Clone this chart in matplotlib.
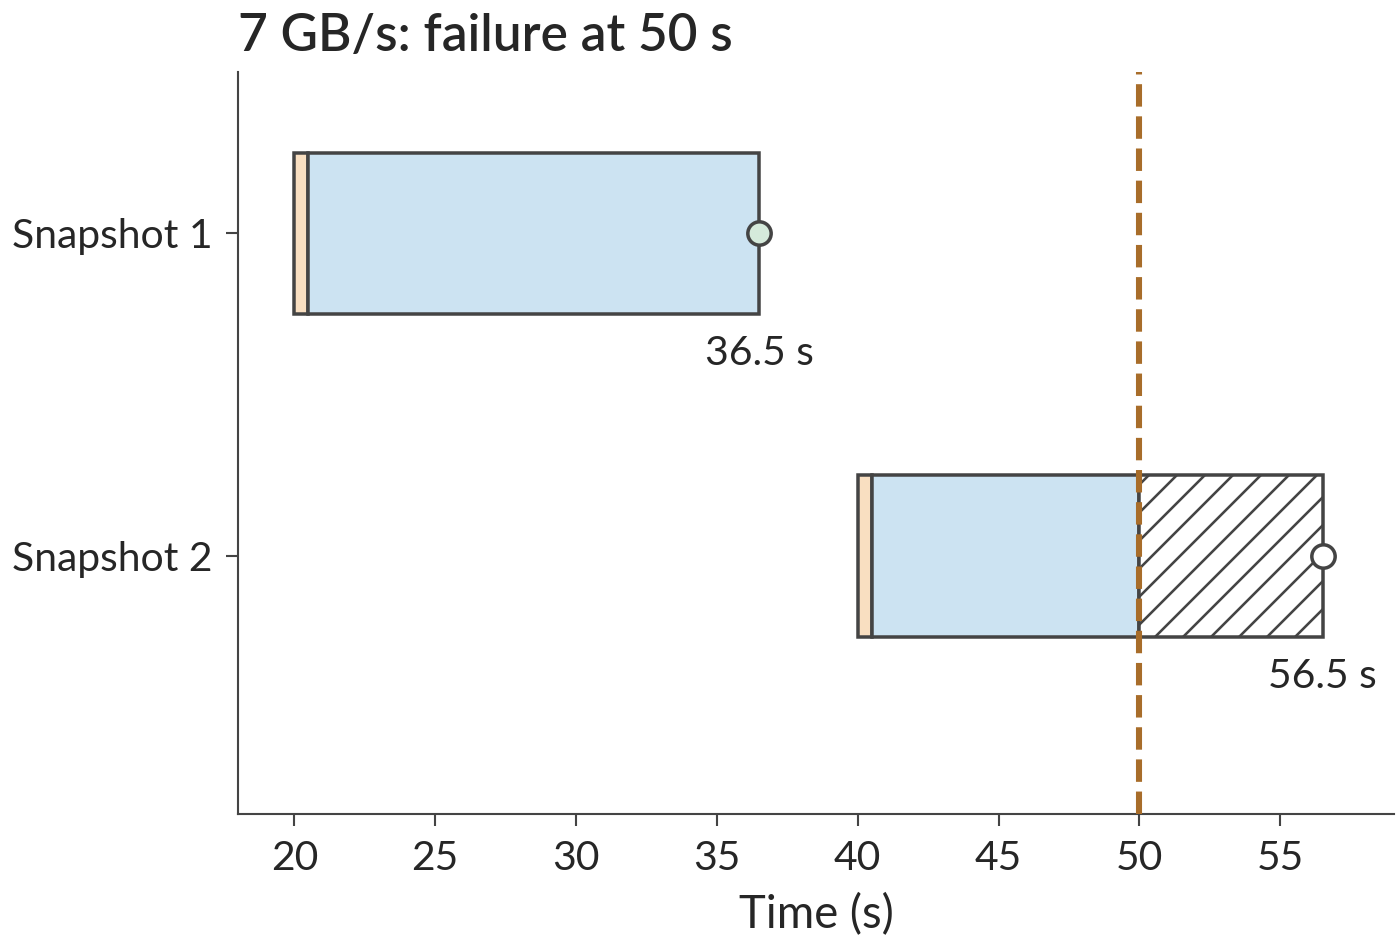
import numpy as np
import matplotlib.pyplot as plt

snapshots = ['Snapshot 1', 'Snapshot 2']
start = [20.0, 40.0]
setup_end = [20.5, 40.5]
finish = [36.5, 56.5]
failure = 50.0
title = '7 GB/s: failure at 50 s'

plt.rcParams['font.family'] = ['Lato', 'DejaVu Sans']
plt.rcParams['hatch.linewidth'] = 1.1
plt.rcParams['hatch.color'] = '#444444'

edge = '#444444'
fig = plt.figure(figsize=(1400 / 168, 947 / 168), dpi=168)
ax = fig.add_axes([0.17, 0.1404, 0.826, 0.7836])

h = 0.5
for i, name in enumerate(snapshots):
    ax.barh(i, setup_end[i] - start[i], left=start[i], height=h,
            color='#f9dfc1', edgecolor=edge, linewidth=1.5, zorder=2)
    blue_end = min(finish[i], failure)
    ax.barh(i, blue_end - setup_end[i], left=setup_end[i], height=h,
            color='#cce3f2', edgecolor=edge, linewidth=1.5, zorder=2)
    lost = finish[i] > failure
    if lost:
        ax.barh(i, finish[i] - failure, left=failure, height=h,
                color='white', edgecolor=edge, hatch='//', linewidth=1.5, zorder=2)
    ax.plot(finish[i], i, 'o', ms=10, mec=edge, mew=1.5,
            mfc='white' if lost else '#d5eadb', zorder=4)
    ax.annotate(f'{finish[i]:g} s', (finish[i], i + h / 2), xytext=(0, -9),
                textcoords='offset points', ha='center', va='top',
                fontsize=17.5, color='#262626')

ax.axvline(failure, color='#a86d2a', lw=2.6, ls='--', zorder=5)

ax.set_xlim(18.0, 59.05)
ax.set_ylim(1.8, -0.5)
ax.set_xticks(np.arange(20, 56, 5))
ax.set_yticks(range(len(snapshots)))
ax.set_yticklabels(snapshots)
ax.set_xlabel('Time (s)', fontsize=19.5, color='#262626', labelpad=7)
ax.set_title(title, loc='left', fontsize=22, fontweight='semibold',
             color='#262626', pad=9)

for s in ['top', 'right']:
    ax.spines[s].set_visible(False)
for s in ['left', 'bottom']:
    ax.spines[s].set_color(edge)
    ax.spines[s].set_linewidth(0.9)
ax.tick_params(labelsize=17.5, labelcolor='#262626', color=edge,
               length=5, width=0.9, pad=6)

fig.savefig('out.png', dpi=168)
